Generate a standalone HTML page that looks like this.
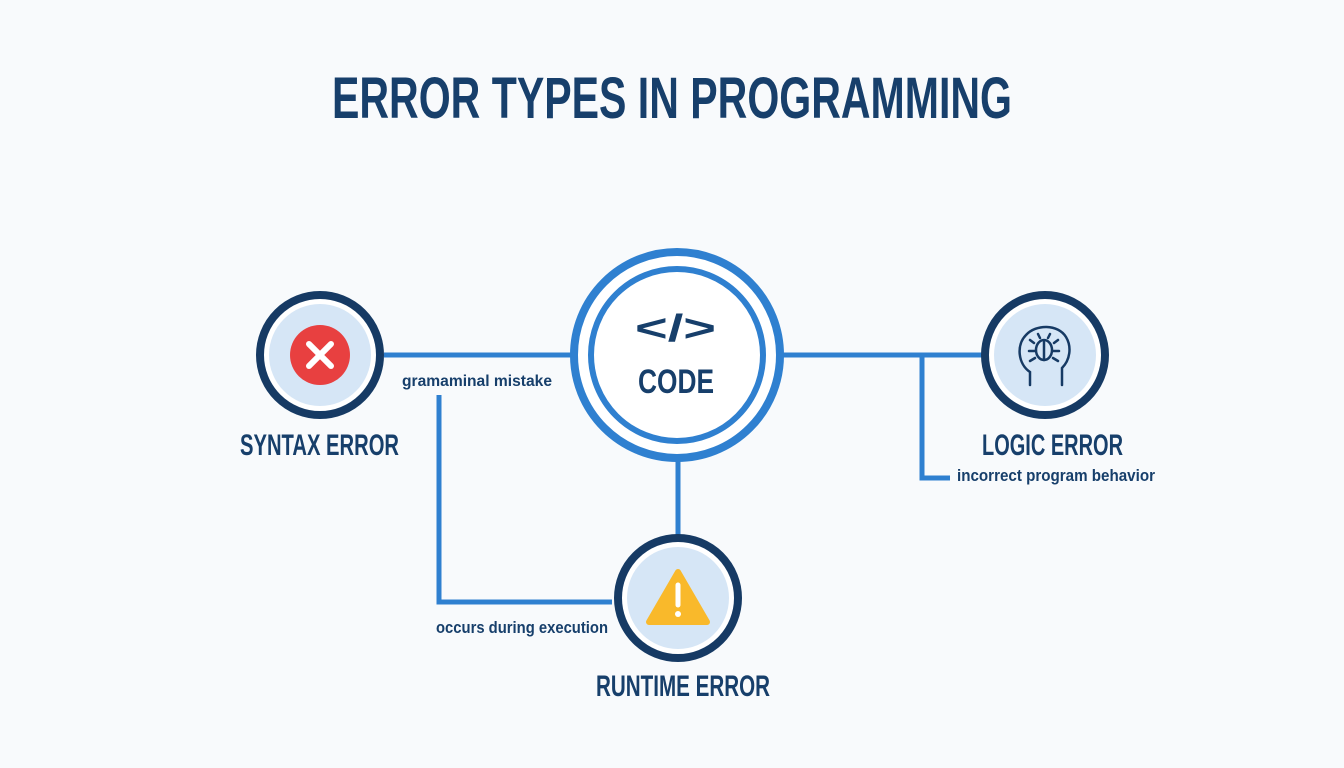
<!DOCTYPE html>
<html><head><meta charset="utf-8"><style>html,body{margin:0;padding:0;background:#f8fafc;}svg{display:block}</style></head>
<body>
<svg width="1344" height="768" viewBox="0 0 1344 768" xmlns="http://www.w3.org/2000/svg" font-family="Liberation Sans, sans-serif" font-weight="bold">
<rect width="1344" height="768" fill="#f8fafc"/>
<text x="332" y="118" font-size="58" fill="#173f6b" textLength="680" lengthAdjust="spacingAndGlyphs">ERROR TYPES IN PROGRAMMING</text>
<g stroke="#2f80d0" stroke-width="5" fill="none">
<line x1="384" y1="355" x2="572" y2="355"/>
<line x1="782" y1="355" x2="984" y2="355"/>
<line x1="678" y1="460" x2="678" y2="536"/>
<polyline points="439,395 439,602 612,602"/>
<polyline points="922,355 922,478 950,478"/>
</g>
<!-- code -->
<circle cx="677" cy="355" r="103" fill="#fff" stroke="#2f80d0" stroke-width="8"/>
<circle cx="677" cy="355" r="86" fill="#fff" stroke="#2f80d0" stroke-width="6"/>
<text x="635" y="341" font-size="38" fill="#173f6b" textLength="81" lengthAdjust="spacingAndGlyphs">&lt;/&gt;</text>
<text x="638" y="393" font-size="34" fill="#173f6b" textLength="76" lengthAdjust="spacingAndGlyphs">CODE</text>
<!-- syntax -->
<circle cx="320" cy="355" r="60" fill="#fff" stroke="#163a64" stroke-width="8"/>
<circle cx="320" cy="355" r="51" fill="#d6e6f6"/>
<circle cx="320" cy="355" r="30" fill="#e84040"/>
<g stroke="#fff" stroke-width="6" stroke-linecap="round"><line x1="309" y1="344" x2="331" y2="366"/><line x1="331" y1="344" x2="309" y2="366"/></g>
<text x="240" y="455" font-size="30" fill="#173f6b" textLength="159" lengthAdjust="spacingAndGlyphs">SYNTAX ERROR</text>
<text x="402" y="386" font-size="16" fill="#173f6b" textLength="150" lengthAdjust="spacingAndGlyphs">gramaminal mistake</text>
<!-- logic -->
<circle cx="1045" cy="355" r="60" fill="#fff" stroke="#163a64" stroke-width="8"/>
<circle cx="1045" cy="355" r="51" fill="#d6e6f6"/>
<g stroke="#163a64" stroke-width="2.5" fill="none" stroke-linecap="round">
<path d="M1030,385 L1030,372 C1018,364 1016,345 1026,335 C1036,324 1058,324 1066,337 C1072,347 1070,360 1062,368 L1062,385"/>
<ellipse cx="1044" cy="350" rx="8" ry="10"/><line x1="1044" y1="342" x2="1044" y2="360"/>
<path d="M1034,343 L1030,340 M1054,343 L1058,340 M1035,351 L1029,351 M1053,351 L1059,351 M1035,358 L1030,361 M1053,358 L1058,361 M1040,338 L1038,334 M1048,338 L1050,334"/>
</g>
<text x="982" y="455" font-size="30" fill="#173f6b" textLength="141" lengthAdjust="spacingAndGlyphs">LOGIC ERROR</text>
<text x="957" y="481" font-size="17" fill="#173f6b" textLength="198" lengthAdjust="spacingAndGlyphs">incorrect program behavior</text>
<!-- runtime -->
<circle cx="678" cy="598" r="60" fill="#fff" stroke="#163a64" stroke-width="8"/>
<circle cx="678" cy="598" r="51" fill="#d6e6f6"/>
<path d="M678,572 L707,622 L649,622 Z" fill="#f9b92b" stroke="#f9b92b" stroke-width="6" stroke-linejoin="round"/>
<line x1="678" y1="585" x2="678" y2="605" stroke="#fff" stroke-width="5" stroke-linecap="round"/>
<circle cx="678" cy="614" r="3" fill="#fff"/>
<text x="436" y="633" font-size="17" fill="#173f6b" textLength="172" lengthAdjust="spacingAndGlyphs">occurs during execution</text>
<text x="596" y="696" font-size="30" fill="#173f6b" textLength="174" lengthAdjust="spacingAndGlyphs">RUNTIME ERROR</text>
</svg>
</body></html>
